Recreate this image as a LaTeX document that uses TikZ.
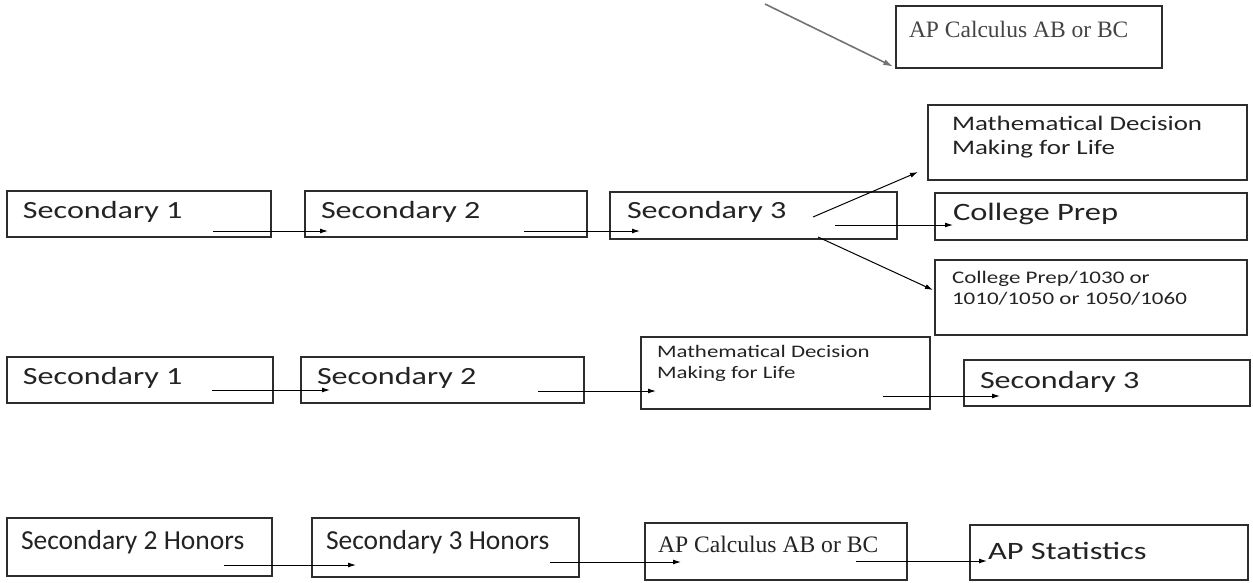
\documentclass[tikz,border=0pt]{standalone}
\usepackage{fontspec}
\setmainfont{Liberation Serif}
\newfontfamily\calS[FakeStretch=1.3]{Carlito}
\newfontfamily\calN{Carlito}
\usetikzlibrary{arrows.meta}
\definecolor{txtc}{RGB}{35,35,35}
\definecolor{boxc}{RGB}{45,45,45}
\definecolor{grayarr}{RGB}{115,115,115}
\newcommand\fs[1]{\fontsize{#1pt}{#1pt}\selectfont}
\newcommand\mkbox[5]{\node[box, minimum width={#4-#2}, minimum height={#5-#3}] (#1) at (#2,#3) {};}
\tikzset{
  box/.style={draw=boxc, line width=1.2pt, anchor=north west, inner sep=0pt, outer sep=0pt},
  lbl/.style={anchor=base west, inner sep=0pt, outer sep=0pt, text=txtc},
  mlbl/.style={anchor=north west, inner sep=0pt, outer sep=0pt, text=txtc, align=left},
  arr/.style={draw=black, line width=1pt, -{Latex[length=8pt,width=5pt]}},
  arrg/.style={draw=grayarr, line width=1.6pt, -{Latex[length=10pt,width=6pt]}},
}
\begin{document}
\begin{tikzpicture}[x=1pt,y=-1pt]
\useasboundingbox (0,0) rectangle (1253,582);
% top
\mkbox{aptop}{896}{6}{1162}{68}
\node[lbl, font=\fs{23.5}, text=txtc!85] (aptopt) at (909,37) {AP Calculus AB or BC};
\coordinate (tA) at (765,4);
\draw[arrg, shorten >=3pt] (tA) -- (aptop.south west);
% row 1
\mkbox{ra1}{7}{191}{271}{237}
\mkbox{ra2}{305}{191}{587}{237}
\mkbox{ra3}{610}{192}{897}{239}
\mkbox{mdmA}{928}{105}{1247}{180}
\mkbox{cpA}{935}{193}{1247}{240}
\mkbox{cpB}{935}{260}{1247}{335}
\node[lbl, font=\calS\fs{24.7}] (ra1t) at (23,218) {Secondary 1};
\node[lbl, font=\calS\fs{24.7}] (ra2t) at (321,218) {Secondary 2};
\node[lbl, font=\calS\fs{24.7}] (ra3t) at (627,218) {Secondary 3};
\node[mlbl, font=\calS\fontsize{20.7pt}{24pt}\selectfont] (mdmAt) at (952,116) {Mathematical Decision\\Making for Life};
\node[lbl, font=\calS\fs{25}] (cpAt) at (953,220) {College Prep};
\node[mlbl, font=\calS\fontsize{17.7pt}{21pt}\selectfont] (cpBt) at (952,271) {College Prep/1030 or\\1010/1050 or 1050/1060};
\coordinate (a1s) at (213,231); \coordinate (a1e) at (328,231);
\coordinate (a2s) at (524,231); \coordinate (a2e) at (640,231);
\coordinate (a3s) at (813,217); \coordinate (a3e) at (918,172);
\coordinate (a4s) at (835,225); \coordinate (a4e) at (953,225);
\coordinate (a5s) at (818,237); \coordinate (a5e) at (933,290);
\draw[arr] (a1s) -- (a1e);
\draw[arr] (a2s) -- (a2e);
\draw[arr] (a3s) -- (a3e);
\draw[arr] (a4s) -- (a4e);
\draw[arr] (a5s) -- (a5e);
% row 2
\mkbox{rb1}{7}{357}{273}{403}
\mkbox{rb2}{301}{357}{584}{403}
\mkbox{mdmB}{641}{337}{930}{409}
\mkbox{rb3}{964}{360}{1250}{406}
\node[lbl, font=\calS\fs{24.7}] (rb1t) at (23,384) {Secondary 1};
\node[lbl, font=\calS\fs{24.7}] (rb2t) at (317,384) {Secondary 2};
\node[mlbl, font=\calS\fontsize{17.6pt}{21pt}\selectfont] (mdmBt) at (657,345) {Mathematical Decision\\Making for Life};
\node[lbl, font=\calS\fs{24.7}] (rb3t) at (980,388) {Secondary 3};
\coordinate (b1s) at (212,390); \coordinate (b1e) at (330,390);
\coordinate (b2s) at (538,391); \coordinate (b2e) at (656,391);
\coordinate (b3s) at (883,396); \coordinate (b3e) at (1000,396);
\draw[arr] (b1s) -- (b1e);
\draw[arr] (b2s) -- (b2e);
\draw[arr] (b3s) -- (b3e);
% row 3
\mkbox{rc1}{7}{518}{272}{576}
\mkbox{rc2}{312}{518}{579}{577}
\mkbox{apB}{645}{523}{907}{580}
\mkbox{stat}{970}{525}{1248}{580}
\node[lbl, font=\calN\fs{27.5}] (rc1t) at (21,549) {Secondary 2 Honors};
\node[lbl, font=\calN\fs{27.5}] (rc2t) at (326,549) {Secondary 3 Honors};
\node[lbl, font=\fs{23.6}] (apBt) at (658,552) {AP Calculus AB or BC};
\node[lbl, font=\calS\fs{25}] (statt) at (988,559) {AP Statistics};
\coordinate (c1s) at (224,565); \coordinate (c1e) at (356,565);
\coordinate (c2s) at (550,562); \coordinate (c2e) at (681,562);
\coordinate (c3s) at (856,561); \coordinate (c3e) at (987,561);
\draw[arr] (c1s) -- (c1e);
\draw[arr] (c2s) -- (c2e);
\draw[arr] (c3s) -- (c3e);
\end{tikzpicture}
\end{document}
